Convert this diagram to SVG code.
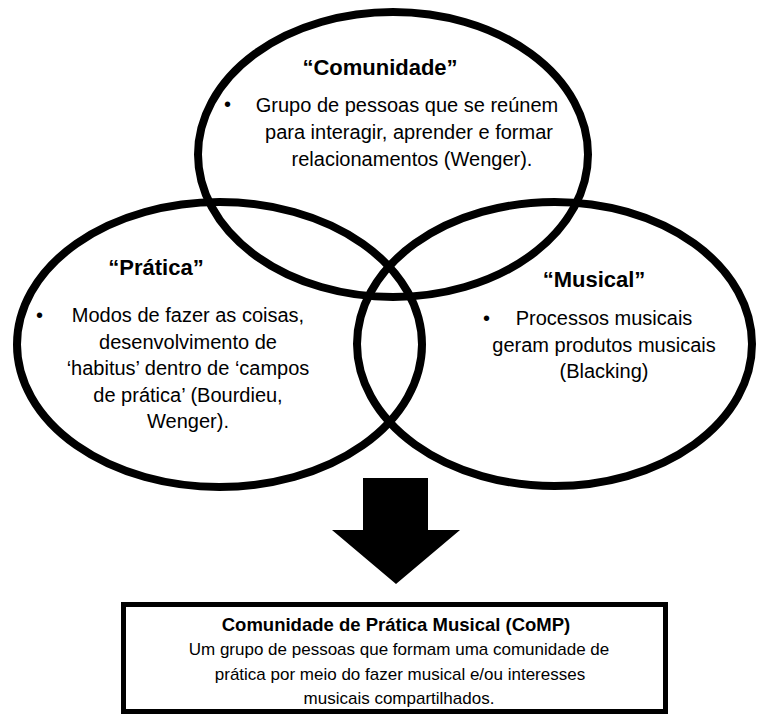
<svg xmlns="http://www.w3.org/2000/svg" width="758" height="717" viewBox="0 0 758 717">
<style>
.ring{fill:none;stroke:#000;stroke-width:8}
.t{font-family:"Liberation Sans",Arial,sans-serif;fill:#000}
.h{font-weight:bold;font-size:22px}
.b{font-size:20px;text-anchor:middle}
.bul{font-size:20px}
.bh{font-weight:bold;font-size:18.5px;text-anchor:middle}
.bt{font-size:17px;text-anchor:middle}
</style>
<rect width="758" height="717" fill="#fff"/>
<g id="comunidade">
<ellipse class="ring" cx="393" cy="154.5" rx="195" ry="142.5"/>
<text class="t h" x="380" y="75" text-anchor="middle">“Comunidade”</text>
<text class="t bul" x="224" y="111">•</text>
<text class="t b" x="407" y="112">Grupo de pessoas que se reúnem</text>
<text class="t b" x="409" y="139">para interagir, aprender e formar</text>
<text class="t b" x="412" y="166">relacionamentos (Wenger).</text>
</g>
<g id="pratica">
<ellipse class="ring" cx="219.5" cy="344.5" rx="202.5" ry="142.5"/>
<text class="t h" x="156" y="275" text-anchor="middle">“Prática”</text>
<text class="t bul" x="36" y="322">•</text>
<text class="t b" x="188" y="322">Modos de fazer as coisas,</text>
<text class="t b" x="188" y="348.5">desenvolvimento de</text>
<text class="t b" x="188" y="375">‘habitus’ dentro de ‘campos</text>
<text class="t b" x="188" y="401.5">de prática’ (Bourdieu,</text>
<text class="t b" x="188" y="428">Wenger).</text>
</g>
<g id="musical">
<ellipse class="ring" cx="554.5" cy="344" rx="197.5" ry="142"/>
<text class="t h" x="594" y="287" text-anchor="middle">“Musical”</text>
<text class="t bul" x="483" y="325">•</text>
<text class="t b" x="604" y="325">Processos musicais</text>
<text class="t b" x="604" y="352">geram produtos musicais</text>
<text class="t b" x="604" y="378">(Blacking)</text>
</g>
<g id="connectors">
<polygon points="363,478 428,478 428,530 460,530 396,584 332,530 363,530" fill="#000"/>
</g>
<g id="comp">
<rect x="123.5" y="604.5" width="542" height="107" fill="#fff" stroke="#000" stroke-width="5"/>
<text class="t bh" x="396" y="631">Comunidade de Prática Musical (CoMP)</text>
<text class="t bt" x="399" y="655">Um grupo de pessoas que formam uma comunidade de</text>
<text class="t bt" x="400" y="680">prática por meio do fazer musical e/ou interesses</text>
<text class="t bt" x="399" y="704">musicais compartilhados.</text>
</g>
</svg>
